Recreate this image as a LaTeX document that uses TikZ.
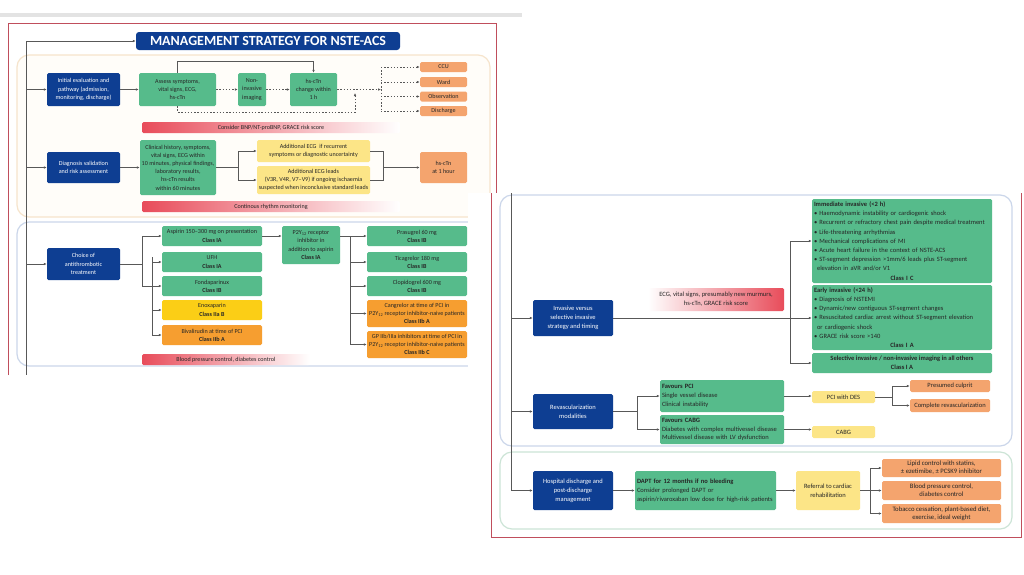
\documentclass[tikz,border=0pt]{standalone}
\usepackage{fontspec}
\setmainfont{Carlito}
\usepackage{tikz}
\usetikzlibrary{calc,arrows.meta,positioning}
\definecolor{escBlue}{RGB}{14,62,146}
\definecolor{escGreen}{RGB}{86,187,139}
\definecolor{escSalmon}{RGB}{244,164,110}
\definecolor{escOrange}{RGB}{246,158,48}
\definecolor{escYellow}{RGB}{251,206,22}
\definecolor{escPale}{RGB}{252,229,135}
\definecolor{barRed}{RGB}{232,76,90}
\definecolor{frameRed}{RGB}{192,78,92}
\definecolor{lineGray}{RGB}{88,88,88}
\definecolor{panelCream}{RGB}{246,228,204}
\definecolor{creamFill}{RGB}{255,253,249}
\definecolor{panelBlue}{RGB}{203,214,234}
\definecolor{panelGreen}{RGB}{204,228,214}

\begin{document}
\begin{tikzpicture}[x=1pt, y=-1pt,
  base/.style={rounded corners=1.5pt, inner xsep=1.5pt, inner ysep=0pt, align=center, text=black!85},
  sz/.style 2 args={minimum width=#1pt, minimum height=#2pt},
  fa/.style={font=\fontsize{6.1}{8.2}\selectfont},
  fb/.style={font=\fontsize{6.5}{8.8}\selectfont},
  fc/.style={font=\fontsize{6.7}{7.9}\selectfont},
  fd/.style={font=\fontsize{6.5}{9.2}\selectfont},
  bluebox/.style={base, fill=escBlue, text=white},
  greenbox/.style={base, fill=escGreen},
  salmonbox/.style={base, fill=escSalmon},
  orangebox/.style={base, fill=escOrange},
  yellowbox/.style={base, fill=escYellow},
  palebox/.style={base, fill=escPale},
  leftbox/.style={align=left, inner xsep=2pt, text width=#1pt},
  redbar/.style={rounded corners=1.5pt, left color=barRed, right color=white, inner sep=0pt, text=black!85},
  redbarR/.style={redbar, left color=white, right color=barRed},
  panel/.style={rounded corners=12pt, line width=1.2pt},
  ln/.style={draw=lineGray, line width=0.6pt},
  arr/.style={ln, -{Latex[length=3pt,width=2.6pt]}},
  dotarr/.style={arr, dash pattern=on 1.4pt off 1.8pt},
  dotln/.style={ln, dash pattern=on 1.4pt off 1.8pt}]
\useasboundingbox (0,0) rectangle (1024,574);
\fill[white] (0,0) rectangle (1024,574);
\fill[gray!22] (0,13) rectangle (522,16.5);
\draw[frameRed, line width=1pt] (8,375) -- (8,23) -- (496,23) -- (496,193);
\draw[panel, draw=panelCream, fill=creamFill] (17,55) rectangle (490,217);
\draw[panel, draw=panelBlue] (17,222) rectangle (490,366);

\node[bluebox, sz={264}{18}, font=\fontsize{14}{16}\bfseries, rounded corners=3pt] (title) at (268,41) {MANAGEMENT STRATEGY FOR NSTE-ACS};

\node[bluebox, fa, sz={73}{33}] (init) at (83.5,89.5) {Initial evaluation and\\pathway (admission,\\monitoring, discharge)};
\node[greenbox, fa, sz={77}{33}] (assess) at (177.5,89.5) {Assess symptoms,\\vital signs, ECG,\\hs-cTn};
\node[greenbox, fa, sz={28}{33}] (imaging) at (252,89.5) {Non-\\invasive\\imaging};
\node[greenbox, fa, sz={47}{33}] (change) at (313.5,89.5) {hs-cTn\\change within\\1 h};
\node[salmonbox, fa, sz={47}{10}] (ccu) at (443.5,67) {CCU};
\node[salmonbox, fa, sz={47}{10}] (ward) at (443.5,82) {Ward};
\node[salmonbox, fa, sz={47}{10}] (obs) at (443.5,96.5) {Observation};
\node[salmonbox, fa, sz={47}{10}] (dischg) at (443.5,111) {Discharge};
\node[redbar, fa, minimum width=258pt, minimum height=11pt] (bnp) at (271,127.5) {Consider BNP/NT-proBNP, GRACE risk score};

\node[bluebox, fa, sz={73}{31}] (diag) at (83.5,167.5) {Diagnosis validation\\and risk assessment};
\node[greenbox, fa, sz={76}{55}] (clin) at (178,167.5) {Clinical history, symptoms,\\vital signs, ECG within\\10 minutes, physical findings,\\laboratory results,\\hs-cTn results\\within 60 minutes};
\node[palebox, fa, sz={113}{22}] (ecgA) at (313.5,151) {Additional ECG\ \ if recurrent\\symptoms or diagnostic uncertainty};
\node[palebox, fa, sz={113}{28}] (ecgB) at (313.5,180) {Additional ECG leads\\(V3R, V4R, V7--V9) if ongoing ischaemia\\suspected when inconclusive standard leads};
\node[salmonbox, fa, sz={47}{31}] (hsone) at (443.5,167.5) {hs-cTn\\at 1 hour};
\node[redbar, fa, minimum width=258pt, minimum height=11pt] (rhythm) at (271,206.5) {Continous rhythm monitoring};

\node[bluebox, fa, sz={73}{32}] (choice) at (83.5,264) {Choice of\\antithrombotic\\treatment};
\node[greenbox, fa, sz={100}{20}] (aspirin) at (212,236) {Aspirin 150--300 mg on presentation\\\textbf{Class IA}};
\node[greenbox, fa, sz={100}{20}] (ufh) at (212,262) {UFH\\\textbf{Class IA}};
\node[greenbox, fa, sz={100}{20}] (fonda) at (212,286) {Fondaparinux\\\textbf{Class IB}};
\node[yellowbox, fa, sz={100}{20}] (enox) at (212,310) {Enoxaparin\\\textbf{Class IIa B}};
\node[orangebox, fa, sz={100}{20}] (bival) at (212,335) {Bivalirudin at time of PCI\\\textbf{Class IIb A}};
\node[greenbox, fa, sz={58}{38}] (ptwo) at (311,245) {P2Y\textsubscript{12} receptor\\inhibitor in\\addition to aspirin\\\textbf{Class IA}};
\node[greenbox, fa, sz={100}{20}] (pras) at (417,236) {Prasugrel 60 mg\\\textbf{Class IB}};
\node[greenbox, fa, sz={100}{20}] (tica) at (417,262) {Ticagrelor 180 mg\\\textbf{Class IB}};
\node[greenbox, fa, sz={100}{20}] (clop) at (417,286) {Clopidogrel 600 mg\\\textbf{Class IB}};
\node[orangebox, fa, sz={100}{27}] (cang) at (417,313.5) {Cangrelor at time of PCI in\\P2Y\textsubscript{12} receptor inhibitor-naive patients\\\textbf{Class IIb A}};
\node[orangebox, fa, sz={100}{27}] (gp) at (417,344.5) {GP IIb/IIIa inhibitors at time of PCI in\\P2Y\textsubscript{12} receptor inhibitor-naive patients\\\textbf{Class IIb C}};
\node[redbar, fa, minimum width=168pt, minimum height=11pt] (bpbar) at (226,359.5) {Blood pressure control, diabetes control};

\coordinate (spine) at (26,41);
\coordinate (spineEnd) at (26,375);
\draw[ln] (spine) -- (spineEnd);
\draw[arr] (spine) -- (title.west);
\foreach \n in {init,diag,choice} \draw[arr] (\n.west -| spine) -- (\n.west);
\draw[arr] (init) -- (assess);
\draw[dotarr] (assess) -- (imaging);
\draw[dotarr] (imaging) -- (change);
\draw[arr] (assess.north) -- ++(0,-12) -| (change.north);
\coordinate (route) at (381,89.5);
\draw[dotarr] (change) -- (route);
\draw[dotln] (ccu.west -| route) -- (dischg.west -| route);
\foreach \n in {ccu,ward,obs,dischg} \draw[dotarr] (\n.west -| route) -- (\n.west);
\coordinate (loop) at (355,112);
\coordinate (loopEnd) at (355,93);
\draw[dotarr] (assess.south) |- (loop) -- (loopEnd);

\draw[arr] (diag) -- (clin);
\coordinate (splitA) at (238,167.5);
\draw[ln] (clin) -- (splitA);
\draw[arr] (splitA) |- (ecgA.west);
\draw[arr] (splitA) |- (ecgB.west);
\coordinate (joinA) at (383,167.5);
\draw[ln] (ecgA.east) -| (joinA);
\draw[ln] (ecgB.east) -| (joinA);
\draw[arr] (joinA) -- (hsone);

\coordinate (splitB) at (142,264);
\draw[ln] (choice) -- (splitB);
\draw[arr] (splitB) |- (aspirin.west);
\draw[arr] (splitB) |- (fonda.west);
\coordinate (splitC) at (152,257);
\draw[ln] (splitC) -- (bival.west -| splitC);
\foreach \n in {ufh,enox,bival} \draw[arr] (\n.west -| splitC) -- (\n.west);
\draw[arr] (aspirin.east) -- (aspirin.east -| ptwo.west);
\coordinate (splitD) at (350,236);
\draw[arr] (aspirin.east -| ptwo.east) -- (pras.west);
\draw[ln] (splitD) -- (gp.west -| splitD);
\foreach \n in {tica,clop,cang,gp} \draw[arr] (\n.west -| splitD) -- (\n.west);

\fill[white] (468,193) rectangle (1024,574);
\draw[frameRed, line width=1pt] (491,193) -- (491,537) -- (1021,537) -- (1021,193);
\draw[panel, draw=panelBlue] (500,195) rectangle (1012,446);
\draw[panel, draw=panelGreen] (500,452) rectangle (1012,529);

\node[bluebox, fb, sz={80}{36}] (inv) at (573,318) {Invasive versus\\selective invasive\\strategy and timing};
\node[redbarR, fb, minimum width=136pt, minimum height=23pt, align=center] (ecglab) at (716,299.5) {ECG, vital signs, presumably new murmurs,\\hs-cTn, GRACE risk score};
\node[greenbox, fd, sz={180}{84}, leftbox=176] (imm) at (902,241) {\textbf{Immediate invasive (<2 h)}\\
\textbullet{} Haemodynamic instability or cardiogenic shock\\
\textbullet{} Recurrent or refractory chest pain despite medical treatment\\
\textbullet{} Life-threatening arrhythmias\\
\textbullet{} Mechanical complications of MI\\
\textbullet{} Acute heart failure in the context of NSTE-ACS\\
\textbullet{} ST-segment depression >1mm/6 leads plus ST-segment\\
\hspace*{3pt}elevation in aVR and/or V1\\
\hspace*{\fill}\textbf{Class I C}\hspace*{\fill}};
\node[greenbox, fd, sz={180}{65}, leftbox=176] (early) at (902,317.5) {\textbf{Early invasive (<24 h)}\\
\textbullet{} Diagnosis of NSTEMI\\
\textbullet{} Dynamic/new contiguous ST-segment changes\\
\textbullet{} Resuscitated cardiac arrest without ST-segment elevation\\
\hspace*{3pt}or cardiogenic shock\\
\textbullet{} GRACE risk score >140\\
\hspace*{\fill}\textbf{Class I A}\hspace*{\fill}};
\node[greenbox, fb, sz={180}{20}] (sel) at (902,363) {\textbf{Selective invasive / non-invasive imaging in all others}\\\textbf{Class I A}};

\node[bluebox, fb, sz={80}{35}] (revasc) at (573,411.5) {Revascularization\\modalities};
\node[greenbox, fb, sz={124}{32}, leftbox=120] (pci) at (722,396) {\textbf{Favours PCI}\\Single vessel disease\\Clinical instability};
\node[greenbox, fb, sz={124}{29}, leftbox=120] (cabg) at (722,429.5) {\textbf{Favours CABG}\\Diabetes with complex multivessel disease\\Multivessel disease with LV dysfunction};
\node[palebox, fb, sz={63}{12}] (pcides) at (843.5,397) {PCI with DES};
\node[palebox, fb, sz={63}{12}] (cabgy) at (843.5,432) {CABG};
\node[salmonbox, fb, sz={80}{12}] (culprit) at (950,386) {Presumed culprit};
\node[salmonbox, fb, sz={80}{13}] (complete) at (950,405.5) {Complete revascularization};

\node[bluebox, fb, sz={80}{39}] (hosp) at (573,490.5) {Hospital discharge and\\post-discharge\\management};
\node[greenbox, fb, sz={141}{39}, leftbox=137] (dapt) at (705.5,490.5) {\textbf{DAPT for 12 months if no bleeding}\\Consider prolonged DAPT or\\aspirin/rivaroxaban low dose for high-risk patients};
\node[palebox, fb, sz={64}{39}] (rehab) at (828,490.5) {Referral to cardiac\\rehabilitation};
\node[salmonbox, fc, sz={119}{18}] (lipid) at (941.5,468) {Lipid control with statins,\\± ezetimibe, ± PCSK9 inhibitor};
\node[salmonbox, fc, sz={119}{19}] (bpc) at (941.5,490.5) {Blood pressure control,\\diabetes control};
\node[salmonbox, fc, sz={119}{19}] (tob) at (941.5,513.5) {Tobacco cessation, plant-based diet,\\exercise, ideal weight};

\coordinate (spineB) at (511,193);
\draw[ln] (spineB) -- (hosp.west -| spineB);
\foreach \n in {inv,revasc,hosp} \draw[arr] (\n.west -| spineB) -- (\n.west);
\draw[arr] (inv.east) -- (inv.east -| early.west);
\coordinate (splitE) at (790,318);
\draw[arr] (splitE) |- (imm.west);
\draw[arr] (splitE) |- (sel.west);
\coordinate (splitF) at (637,411.5);
\draw[ln] (revasc) -- (splitF);
\draw[arr] (splitF) |- (pci.west);
\draw[arr] (splitF) |- (cabg.west);
\draw[arr] (pci.east) -- (pci.east -| pcides.west);
\draw[arr] (cabg.east) -- (cabg.east -| cabgy.west);
\coordinate (splitG) at (892,397);
\draw[ln] (pcides) -- (splitG);
\draw[arr] (splitG) |- (culprit.west);
\draw[arr] (splitG) |- (complete.west);
\draw[arr] (hosp) -- (dapt);
\draw[arr] (dapt) -- (rehab);
\coordinate (splitH) at (870,490.5);
\draw[ln] (rehab) -- (splitH);
\draw[arr] (splitH) |- (lipid.west);
\draw[arr] (splitH) |- (tob.west);
\draw[arr] (splitH) -- (bpc.west);
\end{tikzpicture}
\end{document}
